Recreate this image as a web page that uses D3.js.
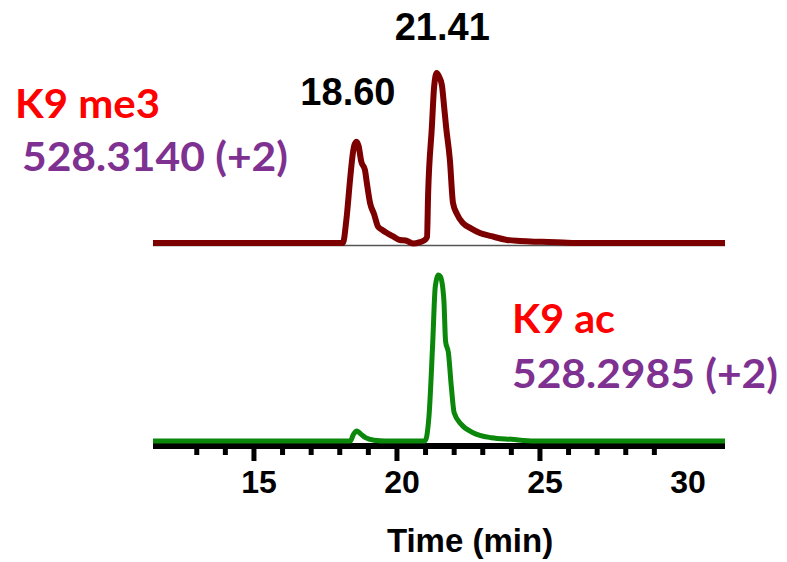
<!DOCTYPE html>
<html>
<head>
<meta charset="utf-8">
<script src="https://cdn.jsdelivr.net/npm/d3@7"></script>
<style>
	body { margin: 0; background: #FFFFFF; }
	#div_id_main { width: 787px; height: 562px; }
	.text_class_tick { font-family: "Liberation Sans", Arial, sans-serif; font-weight: bold; }
	.text_class_label { font-family: Lato, "Open Sans", sans-serif; font-weight: bold; }
</style>
</head>
<body>
<div id="div_id_main"></div>
<script>

// ---- data ------------------------------------------------------------------

// K9 me3, 528.3140 (+2): time (min), relative intensity (21.41 peak = 100)
const g_vTime_Me3   = [11.47, 18.00, 18.11, 18.23, 18.37, 18.46, 18.52, 18.59, 18.66, 18.75, 18.88, 18.95, 19.06, 19.20, 19.34, 19.50, 19.65, 19.85, 20.10, 20.30, 20.56, 20.80, 20.95, 21.05, 21.09, 21.22, 21.30, 21.39, 21.47, 21.57, 21.65, 21.72, 21.85, 21.96, 22.10, 22.30, 22.60, 22.90, 23.30, 23.85, 24.30, 24.80, 25.30, 25.80, 26.50, 31.47];
const g_vSignal_Me3 = [0,     0,     0,     13.5,  39,    53,    58,    59.6,  57,    48,    43,    35,    23.5,  17,    9.6,   7.5,   5.9,   4,     1.8,   1.5,   -0.3,  0.5,   1.5,   3.5,   29,    68,    92,    100,   98,    93,    80,    68,    49,    23.5,  17,    11.8,  8.5,   5.9,   4,     1.8,   1.2,   0.8,   0.6,   0.3,   0,     0];

// K9 ac, 528.2985 (+2)
const g_vTime_Ac    = [11.47, 18.20, 18.37, 18.48, 18.60, 18.75, 18.90, 19.20, 19.60, 20.98, 21.12, 21.25, 21.34, 21.45, 21.52, 21.64, 21.70, 21.80, 21.90, 22.00, 22.25, 22.66, 23.30, 24.00, 24.80, 31.47];
const g_vSignal_Ac  = [0,     0,     0,     4,     6,     4,     2,     0.5,   0,     0,     15,    59,    93,    100,   99,    85,    60,    53,    33,    17,    10,    5,     2,     1,     0,     0];

const g_vPeakTimes   = [18.60, 21.41];
const g_vPeakHeights = [59.6, 100];
const g_vPeakLabels  = ["18.60", "21.41"];

const g_vMinorTicks  = [13, 14, 15, 16, 17, 18, 19, 20, 21, 22, 23, 24, 25, 26, 27, 28, 29];
const g_vMajorTicks  = [15, 20, 25];
const g_vTickLabels  = [15, 20, 25, 30];

const g_vTimeDomain  = [11.47, 31.47];

// ---- layout ----------------------------------------------------------------

const PLOT_LEFT   = 153;
const PLOT_RIGHT  = 725;
const ME3_BASE    = 243;
const ME3_TOP     = 73;
const AC_BASE     = 441;
const AC_TOP      = 275;
const AXIS_Y      = 446;

function funcDraw_Main() {

	let fScale_Time = d3.scaleLinear()
							.domain(g_vTimeDomain)
							.range([PLOT_LEFT, PLOT_RIGHT]);

	let fScale_Me3 = d3.scaleLinear()
							.domain([0, 100])
							.range([ME3_BASE, ME3_TOP]);

	let fScale_Ac = d3.scaleLinear()
							.domain([0, 100])
							.range([AC_BASE, AC_TOP]);

	let svgMain = d3.select("#div_id_main")
					.append("svg")
						.attr("id", "svg_id_main")
						.attr("width", 787)
						.attr("height", 562);

	// thin grey baseline under the upper trace
	svgMain.append("line")
				.attr("x1", fScale_Time(g_vTimeDomain[0]))
				.attr("x2", fScale_Time(g_vTimeDomain[1]))
				.attr("y1", fScale_Me3(0) + 2.5)
				.attr("y2", fScale_Me3(0) + 2.5)
				.attr("stroke", "#555555")
				.attr("stroke-width", 1.5);

	funcDraw_Trace(svgMain, g_vTime_Me3, g_vSignal_Me3, fScale_Time, fScale_Me3, "#7D0000", 6);

	// ---- time axis ----
	let gAxis = svgMain.append("g").attr("id", "g_id_axis");

	gAxis.append("line")
			.attr("x1", fScale_Time(g_vTimeDomain[0]))
			.attr("x2", fScale_Time(g_vTimeDomain[1]))
			.attr("y1", AXIS_Y)
			.attr("y2", AXIS_Y)
			.attr("stroke", "#000000")
			.attr("stroke-width", 6);

	gAxis.selectAll("line.line_class_tick")
			.data(g_vMinorTicks)
			.enter()
				.append("line")
					.attr("class", "line_class_tick")
					.attr("x1", function(d) { return fScale_Time(d); })
					.attr("x2", function(d) { return fScale_Time(d); })
					.attr("y1", AXIS_Y)
					.attr("y2", function(d) { return AXIS_Y + (g_vMajorTicks.indexOf(d) >= 0 ? 15 : 9); })
					.attr("stroke", "#000000")
					.attr("stroke-width", 5);

	gAxis.selectAll("text.text_class_tick")
			.data(g_vTickLabels)
			.enter()
				.append("text")
					.attr("class", "text_class_tick")
					.attr("x", function(d) { return fScale_Time(d) + 5; })
					.attr("y", 493)
					.attr("text-anchor", "middle")
					.attr("font-size", "32px")
					.attr("fill", "#000000")
					.text(function(d) { return d; });

	svgMain.append("text")
				.attr("class", "text_class_tick")
				.attr("x", 470)
				.attr("y", 552)
				.attr("text-anchor", "middle")
				.attr("font-size", "33px")
				.attr("fill", "#000000")
				.text("Time (min)");

	funcDraw_Trace(svgMain, g_vTime_Ac, g_vSignal_Ac, fScale_Time, fScale_Ac, "#0B870B", 5);

	// ---- peak labels ----
	svgMain.selectAll("text.text_class_peak")
			.data(g_vPeakLabels)
			.enter()
				.append("text")
					.attr("class", "text_class_tick text_class_peak")
					.attr("x", function(d, i) { return fScale_Time(g_vPeakTimes[i]) + (i == 0 ? -9 : 5); })
					.attr("y", function(d, i) { return fScale_Me3(g_vPeakHeights[i]) - (i == 0 ? 37 : 33); })
					.attr("text-anchor", "middle")
					.attr("font-size", "38px")
					.attr("fill", "#000000")
					.text(function(d) { return d; });

	// ---- trace labels ----
	funcDraw_Label(svgMain, "K9 me3", 15, 118, 145, "#FF0000");
	funcDraw_Label(svgMain, "528.3140 (+2)", 22, 171, 266, "#7E3191");
	funcDraw_Label(svgMain, "K9 ac", 512, 333, 103, "#FF0000");
	funcDraw_Label(svgMain, "528.2985 (+2)", 512, 388, 266, "#7E3191");
}

function funcDraw_Trace(svg, vTime, vSignal, fScale_X, fScale_Y, color, width) {

	let d3Line = d3.line()
					.x(function(d) { return fScale_X(d[0]); })
					.y(function(d) { return fScale_Y(d[1]); })
					.curve(d3.curveMonotoneX);

	svg.append("path")
			.datum(vTime.map(function(t, i) { return [t, vSignal[i]]; }))
			.attr("d", d3Line)
			.attr("fill", "none")
			.attr("stroke", color)
			.attr("stroke-width", width)
			.attr("stroke-linejoin", "round");
}

function funcDraw_Label(svg, s, x, y, w, color) {

	svg.append("text")
			.attr("class", "text_class_label")
			.attr("x", x)
			.attr("y", y)
			.attr("font-size", "41px")
			.attr("textLength", w)
			.attr("lengthAdjust", "spacingAndGlyphs")
			.attr("fill", color)
			.text(s);
}

funcDraw_Main();

</script>
</body>
</html>
